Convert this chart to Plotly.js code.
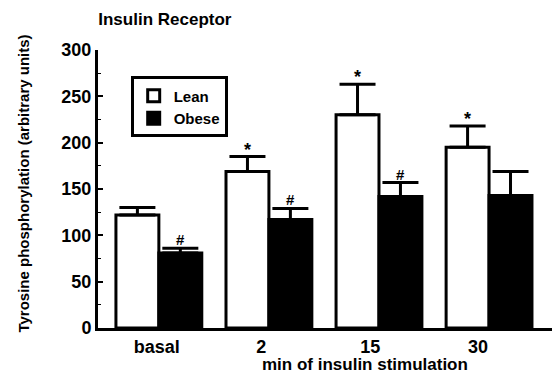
<!DOCTYPE html>
<html>
<head>
<meta charset="utf-8">
<script src="https://cdn.plot.ly/plotly-3.0.1.min.js"></script>
<style>html,body{margin:0;padding:0;background:#fff;}#chart{width:552px;height:381px;}</style>
</head>
<body>
<div id="chart"></div>
<script>
// Data
const categories = ['basal', '2', '15', '30'];
const leanValues = [122, 169, 230, 195];
const leanErrors = [8, 16, 33, 23];
const obeseValues = [81, 117, 142, 143];
const obeseErrors = [5, 12, 15, 26];
const leanMarks = ['', '*', '*', '*'];
const obeseMarks = ['#', '#', '#', ''];
const yTicks = [0, 50, 100, 150, 200, 250, 300];

const FONT = 'Arial, "Liberation Sans", Helvetica, sans-serif';
const xIdx = categories.map((c, i) => i);
const labelShift = [-0.02, -0.07, -0.08, -0.1];
const barOffset = 0.195;

const lean = {
  type: 'bar', name: 'Lean', x: xIdx, y: leanValues,
  marker: {color: '#ffffff', line: {color: '#000000', width: 3}},
  error_y: {type: 'data', symmetric: false, array: leanErrors, arrayminus: leanErrors.map(() => 0),
            color: '#000000', thickness: 3, width: 18}
};
const obese = {
  type: 'bar', name: 'Obese', x: xIdx, y: obeseValues,
  marker: {color: '#000000', line: {color: '#000000', width: 3}},
  error_y: {type: 'data', symmetric: false, array: obeseErrors, arrayminus: obeseErrors.map(() => 0),
            color: '#000000', thickness: 3, width: 18}
};

const annotations = [];
xIdx.forEach(i => {
  if (leanMarks[i]) annotations.push({x: i - barOffset, y: leanValues[i] + leanErrors[i], xref: 'x', yref: 'y',
    text: leanMarks[i], showarrow: false, yanchor: 'bottom', yshift: -5,
    font: {family: FONT, size: 18, color: '#000', weight: 'bold'}});
  if (obeseMarks[i]) annotations.push({x: i + barOffset, y: obeseValues[i] + obeseErrors[i], xref: 'x', yref: 'y',
    text: obeseMarks[i], showarrow: false, yanchor: 'bottom', yshift: -2,
    font: {family: FONT, size: 15, color: '#000', weight: 'bold'}});
});
annotations.push({xref: 'paper', yref: 'paper', x: 0.588, y: -0.13, xanchor: 'center', yanchor: 'middle',
  text: 'min of insulin stimulation', showarrow: false,
  font: {family: FONT, size: 17, color: '#000', weight: 'bold'}});
annotations.push({xref: 'paper', yref: 'paper', x: -0.165, y: 0.52, xanchor: 'center', yanchor: 'middle',
  text: 'Tyrosine phosphorylation (arbitrary units)', textangle: -90, showarrow: false,
  font: {family: FONT, size: 15, color: '#000', weight: 'bold'}});

const layout = {
  width: 552, height: 381,
  margin: {l: 98, r: 0, t: 50, b: 53},
  paper_bgcolor: '#fff', plot_bgcolor: '#fff',
  font: {family: FONT, color: '#000'},
  title: {text: 'Insulin Receptor', xref: 'container', yref: 'container', x: 0.178, xanchor: 'left',
          y: 0.95, yanchor: 'middle', font: {family: FONT, size: 17, color: '#000', weight: 'bold'}},
  barmode: 'group', bargap: 0.22, bargroupgap: 0,
  showlegend: true,
  legend: {x: 0.072, y: 0.905, xanchor: 'left', yanchor: 'top', bgcolor: '#fff',
           bordercolor: '#000', borderwidth: 3, font: {family: FONT, size: 15, color: '#000', weight: 'bold'},
           traceorder: 'normal'},
  xaxis: {type: 'linear', range: [-0.553, 3.572], showline: true, linecolor: '#000', linewidth: 3,
          showgrid: false, zeroline: false, ticks: '',
          tickvals: xIdx.map(i => i + labelShift[i]), ticktext: categories,
          tickfont: {family: FONT, size: 18, color: '#000', weight: 'bold'}},
  yaxis: {range: [0, 300], showline: true, linecolor: '#000', linewidth: 3, showgrid: false, zeroline: false,
          tickvals: yTicks, ticks: 'inside', ticklen: 5, tickwidth: 2, tickcolor: '#000',
          minor: {ticks: 'inside', ticklen: 3, tickwidth: 1, dtick: 25, tickcolor: '#000', showgrid: false},
          tickfont: {family: FONT, size: 18, color: '#000', weight: 'bold'}},
  annotations: annotations
};

Plotly.newPlot('chart', [lean, obese], layout, {displayModeBar: false, staticPlot: true});
</script>
</body>
</html>
